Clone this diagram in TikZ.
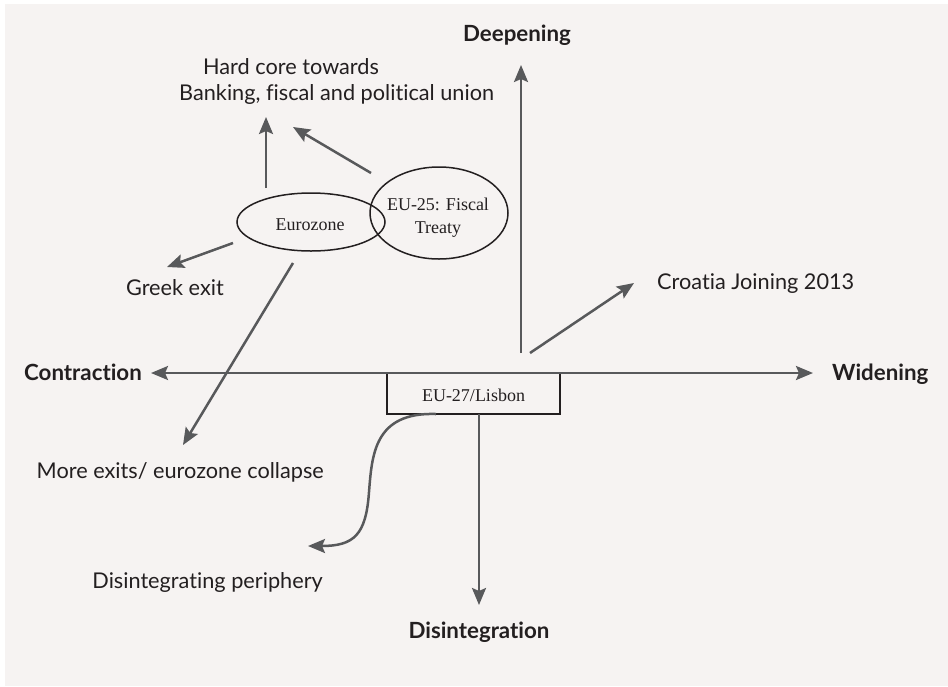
\documentclass[tikz,border=0pt]{standalone}
\usepackage{fontspec}
\setmainfont{Lato}[Ligatures=NoCommon]
\newfontfamily\serifx{Liberation Serif}
\usetikzlibrary{arrows.meta,shapes.geometric}
\definecolor{bg}{HTML}{F6F3F2}
\definecolor{arr}{HTML}{58595B}
\definecolor{ink}{HTML}{231F20}
\begin{document}
\begin{tikzpicture}[x=1pt,y=-1pt,
  conn/.style={draw=arr, line width=2.5pt, -{Stealth[length=17pt,width=14pt,inset=3pt]}},
  lbl/.style={text=ink, font=\fontsize{21.7}{26}\selectfont, inner sep=0pt, anchor=base},
  axlbl/.style={lbl, font=\fontsize{22.3}{26}\selectfont\bfseries},
  sertxt/.style={text=ink, font=\serifx\fontsize{18}{22}\selectfont, inner sep=0pt, align=center},
  outl/.style={draw=ink, line width=1.5pt}]
\useasboundingbox (0,0) rectangle (948,686);
\fill[bg] (5,4) rectangle (948,686);

% axis labels
\node[axlbl] (deep) at (517,41) {Deepening};
\node[axlbl, anchor=base west] (wide) at (832,380) {Widening};
\node[axlbl, anchor=base east] (contr) at (142,380) {Contraction};
\node[axlbl] (disint) at (479,638) {Disintegration};

% other labels
\node[lbl, anchor=base west] (hard1) at (203,74) {Hard core towards};
\node[lbl, anchor=base west] (hard2) at (179,100) {Banking, fiscal and political union};
\node[lbl, anchor=base east] (greek) at (224,295) {Greek exit};
\node[lbl, anchor=base east] (more) at (324,478) {More exits/ eurozone collapse};
\node[lbl, anchor=base east] (peri) at (323,588) {Disintegrating periphery};
\node[lbl, anchor=base west] (croat) at (657,289) {Croatia Joining 2013};

% box and ellipses
\node[outl, rectangle, minimum width=173pt, minimum height=41pt, inner sep=0pt] (lisbon) at (473.5,393.5) {};
\node[sertxt, anchor=base] at (473.5,401) {EU-27/Lisbon};
\node[outl, ellipse, minimum width=148pt, minimum height=58pt, inner sep=0pt] (euro) at (311,222) {};
\node[sertxt, anchor=base] at (310,230) {Eurozone};
\node[outl, ellipse, minimum width=138pt, minimum height=92pt, inner sep=0pt] (eu25) at (439,213) {};
\node[sertxt, anchor=base] at (438,210) {EU-25: Fiscal};
\node[sertxt, anchor=base] at (438,233) {Treaty};

% coordinates for connector ends
\coordinate (hL) at (151,373);
\coordinate (hR) at (813,373);
\coordinate (vS) at (521,353);
\coordinate (vT) at (521,65);
\coordinate (cS) at (530,353);
\coordinate (cT) at (634,283);
\coordinate (dS) at (479,414);
\coordinate (dT) at (479,605);
\coordinate (pS) at (436,414);
\coordinate (pT) at (308,546);
\coordinate (uS) at (266,188);
\coordinate (uT) at (266,117);
\coordinate (fS) at (371,173);
\coordinate (fT) at (293,127);
\coordinate (gS) at (233,243);
\coordinate (gT) at (167,267);
\coordinate (mS) at (293,263);
\coordinate (mT) at (183,445);

% connectors
\draw[conn, {Stealth[length=17pt,width=14pt,inset=3pt]}-{Stealth[length=17pt,width=14pt,inset=3pt]}] (hL) -- (hR);
\draw[conn] (vS) -- (vT);
\draw[conn] (cS) -- (cT);
\draw[conn] (dS) -- (dT);
\draw[conn] (pS) .. controls (374,412) and (372,455) .. (369,492)
               .. controls (366,535) and (354,546) .. (pT);
\draw[conn] (uS) -- (uT);
\draw[conn] (fS) -- (fT);
\draw[conn] (gS) -- (gT);
\draw[conn] (mS) -- (mT);
\end{tikzpicture}
\end{document}
